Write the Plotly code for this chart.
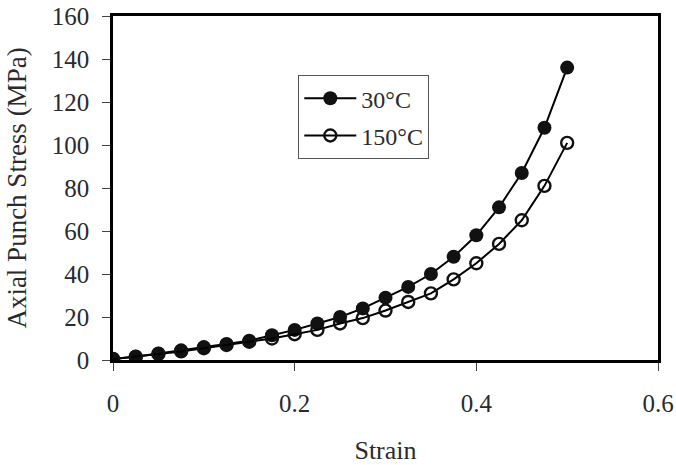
import plotly.graph_objects as go

strain = [0, 0.025, 0.05, 0.075, 0.1, 0.125, 0.15, 0.175, 0.2, 0.225, 0.25,
          0.275, 0.3, 0.325, 0.35, 0.375, 0.4, 0.425, 0.45, 0.475, 0.5]
stress_30 = [0.5, 1.5, 3, 4.5, 6, 7.5, 9, 11.5, 14, 17, 20,
             24, 29, 34, 40, 48, 58, 71, 87, 108, 136]
stress_150 = [0.5, 1.5, 2.8, 4, 5.5, 7, 8.5, 10, 12, 14, 17,
              19.5, 23, 27, 31, 37.5, 45, 54, 65, 81, 101]

x_ticks = [0, 0.2, 0.4, 0.6]
x_tick_text = ["0", "0.2", "0.4", "0.6"]
y_ticks = [0, 20, 40, 60, 80, 100, 120, 140, 160]

FONT = "Liberation Serif, Times New Roman, serif"
TXT = "#2a2a2a"

fig = go.Figure()
fig.add_trace(go.Scatter(
    x=strain, y=stress_30, mode="lines+markers", name="30°C",
    legendgroup="a",
    line=dict(color="black", width=2),
    marker=dict(symbol="circle", size=14, color="#111111"),
))
fig.add_trace(go.Scatter(
    x=strain, y=stress_150, mode="lines+markers", name="150°C",
    legendgroup="b",
    line=dict(color="black", width=2),
    marker=dict(symbol="circle-open", size=12, color="#111111", line=dict(width=2.4)),
))

fig.update_layout(
    width=676, height=465,
    margin=dict(l=113, r=18, t=16, b=105, autoexpand=False),
    paper_bgcolor="white", plot_bgcolor="white",
    font=dict(family=FONT, size=24, color=TXT),
    showlegend=True,
    legend=dict(
        x=0.34, y=0.828, xanchor="left", yanchor="top",
        bordercolor="#555", borderwidth=1, bgcolor="white",
        font=dict(family=FONT, size=24, color=TXT),
        itemwidth=52, tracegroupgap=3,
    ),
    xaxis=dict(
        range=[0, 0.6], tickvals=x_ticks, ticktext=x_tick_text,
        showgrid=False, zeroline=False, automargin=False,
        showline=True, linecolor="black", linewidth=2.5, mirror=True,
        ticks="outside", ticklen=8, tickcolor="#444", tickwidth=1,
        ticklabelstandoff=11,
        tickfont=dict(family=FONT, size=25, color=TXT),
        title=dict(text="Strain", standoff=27, font=dict(family=FONT, size=26, color=TXT)),
    ),
    yaxis=dict(
        range=[0, 160], tickvals=y_ticks,
        showgrid=False, zeroline=False, automargin=False,
        showline=True, linecolor="black", linewidth=2.5, mirror=True,
        ticks="outside", ticklen=8, tickcolor="#444", tickwidth=1,
        ticklabelstandoff=8,
        tickfont=dict(family=FONT, size=25, color=TXT),
        title=dict(text="Axial Punch Stress (MPa)", standoff=18,
                   font=dict(family=FONT, size=27, color=TXT)),
    ),
)

fig.write_html("out.html", config={"displayModeBar": False},
               post_script="document.body.style.margin='0px';")
